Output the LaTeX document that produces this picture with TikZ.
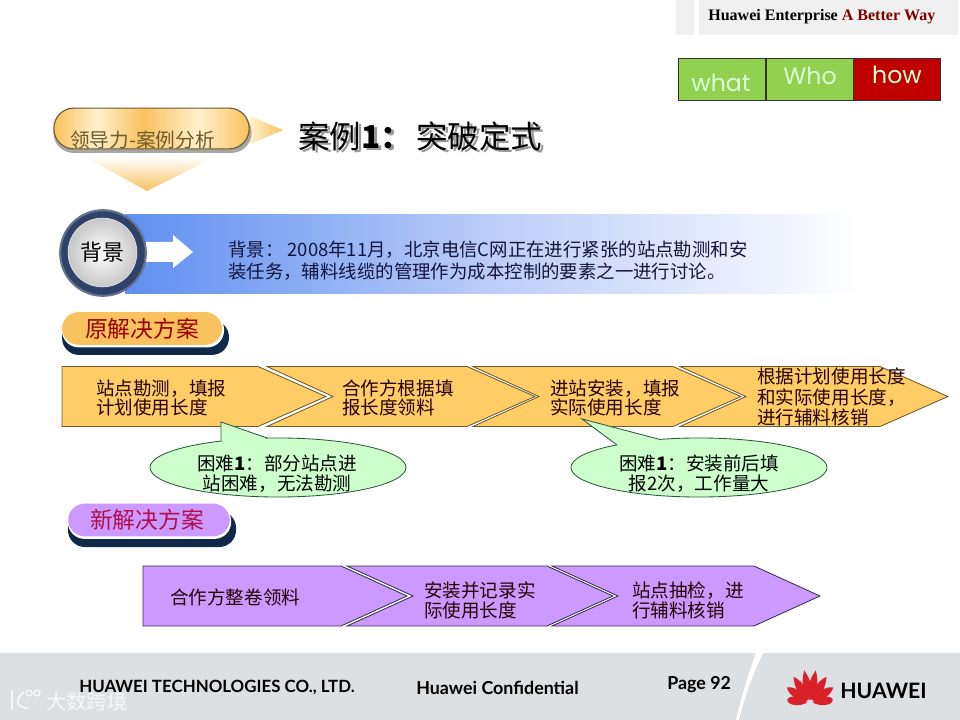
\documentclass[tikz,border=0pt]{standalone}
\usepackage{fontspec}
\usepackage{xcolor}
\setmainfont{Noto Sans CJK SC}
\newfontfamily\headerfont{Liberation Serif}
\newfontfamily\footerfont{Lato}
\newfontfamily\tablefont{Poppins}
\usetikzlibrary{shapes.geometric,calc}
\definecolor{stepgold}{HTML}{FFCC66}
\definecolor{stepedge}{HTML}{6E5A2C}
\definecolor{steppurple}{HTML}{CC99FF}
\definecolor{purpleedge}{HTML}{3A3050}
\definecolor{bubblegreen}{HTML}{CCFFCC}
\definecolor{bubbleedge}{HTML}{2F5A3A}
\definecolor{pillgold}{HTML}{F9C25E}
\definecolor{pillpale}{HTML}{FFF0CC}
\definecolor{pillnavy}{HTML}{10294B}
\definecolor{ringnavy}{HTML}{2F4369}
\definecolor{bannerblue}{HTML}{5F8FF0}
\definecolor{bannermid}{HTML}{BCCDF8}
\definecolor{darktext}{HTML}{14143C}
\definecolor{bandgray}{HTML}{DDE0E2}
\definecolor{patchgray}{HTML}{F0F0F0}
\definecolor{cellgreen}{HTML}{92D050}
\definecolor{cellred}{HTML}{C00000}
\definecolor{huaweired}{HTML}{D8222A}
\definecolor{newred}{HTML}{B0104A}
\pgfdeclarehorizontalshading{tagshade}{100bp}{color(0bp)=(pillgold); color(25bp)=(pillgold); color(36bp)=(pillpale); color(48bp)=(pillgold); color(62bp)=(pillpale); color(75bp)=(pillgold); color(100bp)=(pillgold)}

\begin{document}
\begin{tikzpicture}[x=0.025cm, y=-0.025cm,
    step text/.style={anchor=west, align=left, inner sep=0pt, text=black!85!red, font=\fontsize{13.2}{14}\selectfont},
    orange step/.style={draw=stepedge, fill=stepgold, line width=0.6pt},
    purple step/.style={draw=purpleedge, fill=steppurple, line width=0.6pt},
    hard bubble/.style={ellipse, draw=bubbleedge, fill=bubblegreen, line width=0.6pt, minimum width=6.4cm, minimum height=1.475cm, inner sep=0pt},
    hard text/.style={inner sep=0pt, align=center, font=\fontsize{13.2}{14.4}\selectfont},
    plain pill/.style={rectangle, rounded corners=0.42cm, minimum width=4cm, minimum height=0.85cm, inner sep=0pt},
    table cell/.style={rectangle, draw=black!80, line width=0.6pt, minimum width=2.175cm, minimum height=1.05cm, inner sep=0pt},
    table text/.style={inner sep=0pt, text=white!85!green, font=\tablefont\fontsize{16.8}{18}\selectfont},
    footer text/.style={inner sep=0pt, anchor=west, text=black, font=\footerfont\bfseries\fontsize{12.7}{14}\selectfont}]
    \useasboundingbox (0,0) rectangle (960,720);

    % top corner
    \fill[patchgray] (676,0) rectangle (694,35);
    \fill[patchgray] (699,0) rectangle (958,35);
    \node[anchor=west, inner sep=0pt, font=\headerfont\bfseries\fontsize{11.4}{13}\selectfont] (slogan) at (708,17) {Huawei Enterprise \textcolor{red!50!black}{A Better Way}};

    \node[table cell, fill=cellgreen] (whatcell) at (722,79) {};
    \node[table cell, fill=cellgreen] (whocell) at (809.5,79) {};
    \node[table cell, fill=cellred] (howcell) at (897,79) {};
    \node[table text] (whattext) at (721,83) {what};
    \node[table text] (whotext) at (810,76) {Who};
    \node[table text] (howtext) at (897,75) {how};

    % section tag and title
    \shade[left color=pillpale, right color=pillgold] (250,116) -- (283,130) -- (250,144) -- cycle;
    \shade[top color=white, bottom color=pillgold] (85,157) -- (215,157) -- (147,191) -- cycle;
    \node[plain pill, rounded corners=0.5cm, minimum width=4.95cm, minimum height=1.02cm, fill=black!35] (tagshadow) at (152.5,132.5) {};
    \node[plain pill, rounded corners=0.5cm, minimum width=4.88cm, minimum height=1.02cm, draw=stepedge, line width=0.8pt, shade, shading=tagshade] (tag) at (151.5,128.5) {};
    \node[anchor=west, inner sep=0pt, text=stepedge, font=\fontsize{14}{15}\selectfont] (tagtext) at (70,140) {领导力-案例分析};

    \node[anchor=west, inner sep=0pt, text=black!40, font=\fontsize{22.4}{24}\selectfont] (titleshadow) at (301,138) {案例\textbf{1：}\hspace{3pt}突破定式};
    \node[anchor=west, inner sep=0pt, font=\fontsize{22.4}{24}\selectfont] (title) at (298,136) {案例\textbf{1：}\hspace{3pt}突破定式};

    % background banner
    \shade[left color=bannerblue, right color=white, middle color=bannermid] (125,215) rectangle (860,294);
    \fill[white] (146,242) -- (173,242) -- (173,235) -- (193,252) -- (173,268) -- (173,262) -- (146,262) -- cycle;
    \node[circle, draw=ringnavy!75!white, fill=ringnavy, line width=1.5pt, minimum size=2.14cm, inner sep=0pt] (ring) at (103,253) {};
    \node[circle, draw=white!90!black, line width=0.5pt, inner color=white, outer color=black!22, minimum size=1.72cm, inner sep=0pt, font=\fontsize{15.6}{17}\selectfont] (background) at (102.5,252.5) {背景};
    \node[anchor=west, align=left, inner sep=0pt, text=darktext, font=\fontsize{13.1}{15.6}\selectfont] (backgroundtext) at (228,261) {背景： 2008年11月，北京电信C网正在进行紧张的站点勘测和安\\装任务，辅料线缆的管理作为成本控制的要素之一进行讨论。};

    % old solution
    \node[plain pill, minimum width=4.17cm, minimum height=0.87cm, fill=pillnavy] (oldshadow) at (145.5,337.5) {};
    \node[plain pill, minimum width=4.05cm, minimum height=0.87cm, fill=white] (oldrim) at (143,330) {};
    \node[plain pill, minimum width=4cm, minimum height=0.82cm, fill=pillgold, text=red!60!black, font=\fontsize{16.2}{18}\selectfont] (old) at (142,328.5) {\raisebox{-2.2pt}{原解决方案}};

    \foreach \xa/\xb in {62/258, 267/467, 473/673, 680/880} {
        \draw[orange step] (\xa,366.5) -- (\xb,366.5) -- ({\xb+68},396.5) -- (\xb,426.5) -- (\xa,426.5) -- ({\xa+(\xa>100?66:0)},396.5) -- cycle;
    }
    \node[step text] (survey) at (96,398) {站点勘测，填报\\计划使用长度};
    \node[step text] (report) at (342,398) {合作方根据填\\报长度领料};
    \node[step text] (install) at (550,398) {进站安装，填报\\实际使用长度};
    \node[step text, font=\fontsize{13.2}{14.7}\selectfont] (settle) at (757,397) {根据计划使用长度\\和实际使用长度，\\进行辅料核销};

    % difficulty bubbles
    \node[hard bubble] (hardone) at (278,467.5) {};
    \coordinate (hardonetip) at (221,422);
    \fill[bubblegreen] (221,441) -- (hardonetip) -- (267,438) -- (244,446) -- cycle;
    \draw[bubbleedge, line width=0.6pt] (221,441) -- (hardonetip) -- (267,438);
    \node[hard text] (hardonetext) at (277,474) {困难\textbf{1}：部分站点进\\站困难，无法勘测};
    \node[hard bubble] (hardtwo) at (699,467.5) {};
    \coordinate (hardtwotip) at (582,419);
    \fill[bubblegreen] (617,445) -- (hardtwotip) -- (660,439.5) -- (640,450) -- cycle;
    \draw[bubbleedge, line width=0.6pt] (617,445) -- (hardtwotip) -- (660,439.5);
    \node[hard text] (hardtwotext) at (699,474) {困难\textbf{1}：安装前后填\\报2次，工作量大};

    % new solution
    \node[plain pill, minimum width=4.2cm, minimum height=0.9cm, fill=pillnavy] (newshadow) at (152,529) {};
    \node[plain pill, minimum width=4.08cm, minimum height=0.87cm, fill=white] (newrim) at (149.5,521.5) {};
    \node[plain pill, minimum width=4.04cm, minimum height=0.82cm, fill=steppurple, text=newred, font=\fontsize{16.2}{18}\selectfont] (new) at (149,520) {\hspace*{-2.8pt}新解决方案};

    \foreach \xa/\xb in {143/341, 347/547, 552/754} {
        \draw[purple step] (\xa,566) -- (\xb,566) -- ({\xb+66},596) -- (\xb,626) -- (\xa,626) -- ({\xa+(\xa>200?66:0)},596) -- cycle;
    }
    \node[step text] (wholeroll) at (170,597) {合作方整卷领料};
    \node[step text] (record) at (424,600.5) {安装并记录实\\际使用长度};
    \node[step text] (check) at (632,600.5) {站点抽检，进\\行辅料核销};

    % footer
    \fill[bandgray] (0,653) rectangle (960,720);
    \fill[white] (756,653) -- (763,653) .. controls (750,680) and (744,700) .. (739,720) -- (736,720) .. controls (742,695) and (748,675) .. (756,653) -- cycle;
    \node[footer text, font=\footerfont\bfseries\fontsize{12}{14}\selectfont] (company) at (79,688) {HUAWEI TECHNOLOGIES CO., LTD.};
    \node[footer text] (confidential) at (416,688) {Huawei Confidential};
    \node[footer text] (page) at (667,685) {Page 92};

    \foreach \ang/\len in {-10/33, 10/33, -32/31, 32/31, -56/28, 56/28, -82/23, 82/23} {
        \fill[huaweired, shift={(810,703)}, rotate=\ang] (0,-3) .. controls (-5.5,-10) and (-5.5,-22) .. (0,-\len) .. controls (5.5,-22) and (5.5,-10) .. (0,-3) -- cycle;
    }
    \node[anchor=west, inner sep=0pt, font=\footerfont\bfseries\fontsize{15.1}{17}\selectfont] (brand) at (840,691) {HUAWEI};

    % watermark
    \draw[white, opacity=0.75, line width=1.2pt] (12,690) -- (12,710);
    \draw[white, opacity=0.75, line width=1.2pt] (24,692) .. controls (14,700) and (16,708) .. (28,708);
    \draw[white, opacity=0.75, line width=1pt] (29,693) circle [radius=3];
    \draw[white, opacity=0.75, line width=1pt] (37,693) circle [radius=3];
    \node[anchor=west, inner sep=0pt, text=white, text opacity=0.75, font=\fontsize{14.4}{16}\selectfont] (watermark) at (46,702) {大数跨境};
\end{tikzpicture}
\end{document}
